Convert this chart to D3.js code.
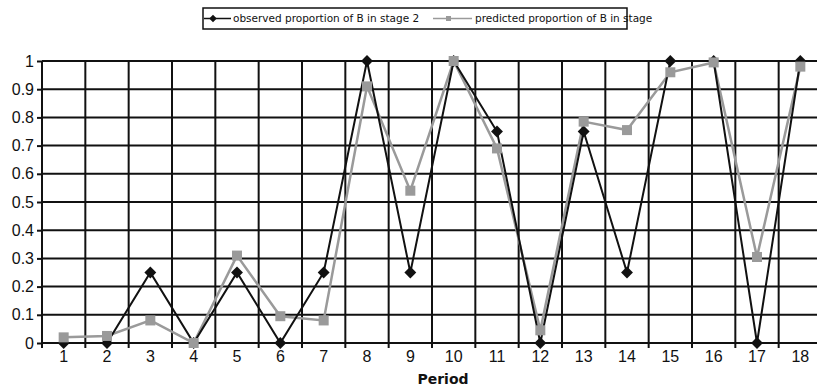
<!DOCTYPE html>
<html>
<head>
<meta charset="utf-8">
<script src="https://cdn.jsdelivr.net/npm/d3@7"></script>
<style>
  body { margin: 0; background: #fff; }
  svg { display: block; font-family: "Liberation Sans", Arial, sans-serif; }
</style>
</head>
<body>
<svg id="chart" width="817" height="388"></svg>
<script>
const periods = [1, 2, 3, 4, 5, 6, 7, 8, 9, 10, 11, 12, 13, 14, 15, 16, 17, 18];
const observed = [0, 0, 0.25, 0, 0.25, 0, 0.25, 1, 0.25, 1, 0.75, 0, 0.75, 0.25, 1, 1, 0, 1];
const predicted = [0.02, 0.025, 0.08, 0, 0.31, 0.095, 0.08, 0.91, 0.54, 1, 0.69, 0.045, 0.785, 0.755, 0.96, 0.995, 0.305, 0.98];
const yTicks = [0, 0.1, 0.2, 0.3, 0.4, 0.5, 0.6, 0.7, 0.8, 0.9, 1];

const svg = d3.select("#chart");
const margin = { top: 61, left: 42 };
const plotW = 780;
const plotH = 282;

const x = d3.scaleBand().domain(periods).range([0, plotW]);
const y = d3.scaleLinear().domain([0, 1]).range([plotH, 0]);

const g = svg.append("g").attr("transform", `translate(${margin.left},${margin.top})`);

// horizontal grid
g.selectAll(".hgrid")
  .data(yTicks)
  .enter()
  .append("line")
  .attr("x1", 0)
  .attr("x2", plotW)
  .attr("y1", d => y(d))
  .attr("y2", d => y(d))
  .attr("stroke", "#111")
  .attr("stroke-width", 2);

// vertical grid at band boundaries
const bounds = periods.map(p => x(p)).concat([plotW]);
g.selectAll(".vgrid")
  .data(bounds)
  .enter()
  .append("line")
  .attr("x1", d => d)
  .attr("x2", d => d)
  .attr("y1", 0)
  .attr("y2", plotH + 5)
  .attr("stroke", "#111")
  .attr("stroke-width", 2);

// y axis
const yAxis = d3.axisLeft(y).tickValues(yTicks).tickSize(5).tickFormat(d => d3.format("")(d));
const yAxisG = g.append("g").call(yAxis);
yAxisG.select(".domain").remove();
yAxisG.selectAll("line").attr("stroke", "#111").attr("stroke-width", 2);
yAxisG.selectAll("text").attr("font-size", 16).attr("fill", "#111").attr("x", -8)
  .attr("font-family", "Liberation Sans, Arial, sans-serif");

// x axis labels
const xAxis = d3.axisBottom(x).tickSize(0).tickPadding(8);
const xAxisG = g.append("g").attr("transform", `translate(0,${plotH})`).call(xAxis);
xAxisG.select(".domain").remove();
xAxisG.selectAll("text").attr("font-size", 16).attr("fill", "#111")
  .attr("font-family", "Liberation Sans, Arial, sans-serif");

g.append("text")
  .attr("x", x(10) + 11)
  .attr("y", plotH + 41)
  .attr("text-anchor", "middle")
  .attr("font-size", 14)
  .attr("font-weight", "bold")
  .attr("font-family", "DejaVu Sans, sans-serif")
  .attr("fill", "#111")
  .text("Period");

const cx = p => x(p) + x.bandwidth() / 2;

// predicted series
const predLine = d3.line().x((d, i) => cx(periods[i])).y(d => y(d));
g.append("path")
  .datum(predicted)
  .attr("d", predLine)
  .attr("fill", "none")
  .attr("stroke", "#9a9a9a")
  .attr("stroke-width", 2.5);

// observed series
const obsLine = d3.line().x((d, i) => cx(periods[i])).y(d => y(d));
g.append("path")
  .datum(observed)
  .attr("d", obsLine)
  .attr("fill", "none")
  .attr("stroke", "#111")
  .attr("stroke-width", 2);

const diamond = d3.symbol().type(d3.symbolDiamond2).size(90);
g.selectAll(".obs")
  .data(observed)
  .enter()
  .append("path")
  .attr("d", diamond)
  .attr("transform", (d, i) => `translate(${cx(periods[i])},${y(d)})`)
  .attr("fill", "#111");

g.selectAll(".pred")
  .data(predicted)
  .enter()
  .append("rect")
  .attr("x", (d, i) => cx(periods[i]) - 5)
  .attr("y", d => y(d) - 5)
  .attr("width", 10)
  .attr("height", 10)
  .attr("fill", "#9a9a9a");

// legend
const lg = svg.append("g").attr("font-family", "DejaVu Sans, sans-serif");
lg.append("rect")
  .attr("x", 203)
  .attr("y", 8)
  .attr("width", 424)
  .attr("height", 21)
  .attr("fill", "#fff")
  .attr("stroke", "#111")
  .attr("stroke-width", 1.5);

lg.append("line").attr("x1", 204).attr("x2", 231).attr("y1", 18.5).attr("y2", 18.5)
  .attr("stroke", "#111").attr("stroke-width", 1.5);
lg.append("path").attr("d", d3.symbol().type(d3.symbolDiamond2).size(36))
  .attr("transform", "translate(213,18.5)").attr("fill", "#111");
lg.append("text").attr("x", 233).attr("y", 22).attr("font-size", 10.5).attr("fill", "#111")
  .text("observed proportion of B in stage 2");

lg.append("line").attr("x1", 433).attr("x2", 472).attr("y1", 18.5).attr("y2", 18.5)
  .attr("stroke", "#9a9a9a").attr("stroke-width", 1.5);
lg.append("rect").attr("x", 446).attr("y", 16).attr("width", 5).attr("height", 5).attr("fill", "#9a9a9a");
lg.append("text").attr("x", 475).attr("y", 22).attr("font-size", 10.5).attr("fill", "#111")
  .text("predicted proportion of B in stage");
</script>
</body>
</html>
